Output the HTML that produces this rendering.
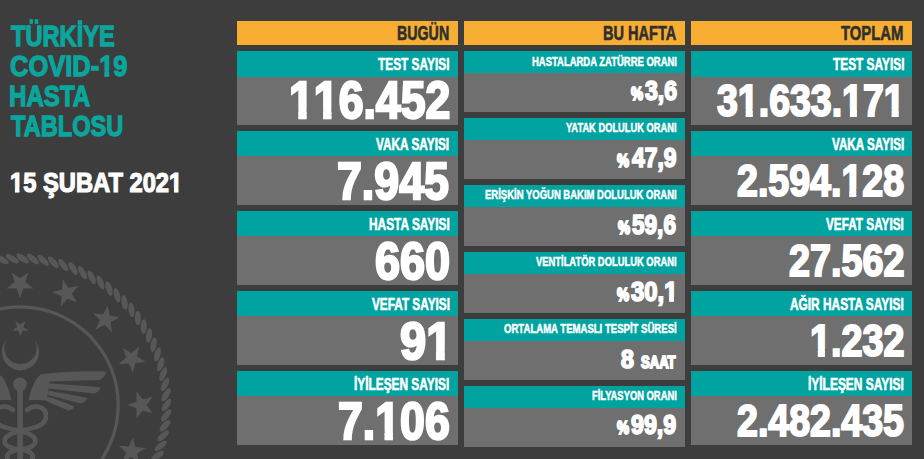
<!DOCTYPE html>
<html><head><meta charset="utf-8"><style>
html,body{margin:0;padding:0;}
body{width:924px;height:459px;overflow:hidden;background:#3d3d3d;position:relative;font-family:"Liberation Sans",sans-serif;font-weight:bold;}
.b{position:absolute;}
.t{position:absolute;white-space:nowrap;transform-origin:0 0;}
svg.logo{position:absolute;left:0;top:0;}
</style></head><body>
<svg class="logo" width="924" height="459" viewBox="0 0 924 459"><g fill="#575757"><polygon points="20.00,298.20 16.66,288.60 6.49,288.39 14.60,282.24 11.65,272.51 20.00,278.32 28.35,272.51 25.40,282.24 33.51,288.39 23.34,288.60"/><polygon points="60.87,306.33 61.46,296.18 52.15,292.10 61.99,289.52 62.99,279.40 68.48,287.96 78.41,285.79 71.97,293.66 77.10,302.43 67.63,298.73"/><polygon points="95.52,329.48 99.95,320.33 92.91,312.99 102.98,314.38 107.78,305.41 109.58,315.42 119.59,317.22 110.62,322.02 112.01,332.09 104.67,325.05"/><polygon points="118.67,364.13 126.27,357.37 122.57,347.90 131.34,353.03 139.21,346.59 137.04,356.52 145.60,362.01 135.48,363.01 132.90,372.85 128.82,363.54"/><polygon points="126.80,405.00 136.40,401.66 136.61,391.49 142.76,399.60 152.49,396.65 146.68,405.00 152.49,413.35 142.76,410.40 136.61,418.51 136.40,408.34"/><polygon points="118.67,445.87 128.82,446.46 132.90,437.15 135.48,446.99 145.60,447.99 137.04,453.48 139.21,463.41 131.34,456.97 122.57,462.10 126.27,452.63"/><ellipse cx="166.50" cy="405.00" rx="7.4" ry="3.0" transform="rotate(125.0 166.50 405.00)"/><ellipse cx="166.14" cy="415.33" rx="7.4" ry="3.0" transform="rotate(129.0 166.14 415.33)"/><ellipse cx="165.04" cy="425.62" rx="7.4" ry="3.0" transform="rotate(133.1 165.04 425.62)"/><ellipse cx="163.23" cy="435.80" rx="7.4" ry="3.0" transform="rotate(137.1 163.23 435.80)"/><ellipse cx="160.70" cy="445.82" rx="7.4" ry="3.0" transform="rotate(141.2 160.70 445.82)"/><ellipse cx="157.47" cy="455.65" rx="7.4" ry="3.0" transform="rotate(145.2 157.47 455.65)"/><ellipse cx="153.55" cy="465.22" rx="7.4" ry="3.0" transform="rotate(149.3 153.55 465.22)"/><ellipse cx="-8.26" cy="261.25" rx="7.4" ry="3.0" transform="rotate(383.9 -8.26 261.25)"/><ellipse cx="1.95" cy="259.62" rx="7.4" ry="3.0" transform="rotate(387.9 1.95 259.62)"/><ellipse cx="12.25" cy="258.71" rx="7.4" ry="3.0" transform="rotate(392.0 12.25 258.71)"/><ellipse cx="22.59" cy="258.52" rx="7.4" ry="3.0" transform="rotate(396.0 22.59 258.52)"/><ellipse cx="32.91" cy="259.07" rx="7.4" ry="3.0" transform="rotate(400.1 32.91 259.07)"/><ellipse cx="43.17" cy="260.34" rx="7.4" ry="3.0" transform="rotate(404.1 43.17 260.34)"/><ellipse cx="53.32" cy="262.34" rx="7.4" ry="3.0" transform="rotate(408.1 53.32 262.34)"/><ellipse cx="63.30" cy="265.04" rx="7.4" ry="3.0" transform="rotate(412.2 63.30 265.04)"/><ellipse cx="73.06" cy="268.45" rx="7.4" ry="3.0" transform="rotate(416.2 73.06 268.45)"/><ellipse cx="82.56" cy="272.53" rx="7.4" ry="3.0" transform="rotate(420.3 82.56 272.53)"/><ellipse cx="91.75" cy="277.27" rx="7.4" ry="3.0" transform="rotate(424.3 91.75 277.27)"/><ellipse cx="100.58" cy="282.65" rx="7.4" ry="3.0" transform="rotate(428.4 100.58 282.65)"/><ellipse cx="109.01" cy="288.64" rx="7.4" ry="3.0" transform="rotate(432.4 109.01 288.64)"/><ellipse cx="117.00" cy="295.21" rx="7.4" ry="3.0" transform="rotate(436.5 117.00 295.21)"/><ellipse cx="124.50" cy="302.33" rx="7.4" ry="3.0" transform="rotate(440.5 124.50 302.33)"/><ellipse cx="131.48" cy="309.95" rx="7.4" ry="3.0" transform="rotate(444.6 131.48 309.95)"/><ellipse cx="137.91" cy="318.05" rx="7.4" ry="3.0" transform="rotate(448.6 137.91 318.05)"/><ellipse cx="143.75" cy="326.59" rx="7.4" ry="3.0" transform="rotate(452.6 143.75 326.59)"/><ellipse cx="148.97" cy="335.51" rx="7.4" ry="3.0" transform="rotate(456.7 148.97 335.51)"/><ellipse cx="153.55" cy="344.78" rx="7.4" ry="3.0" transform="rotate(460.7 153.55 344.78)"/><ellipse cx="157.47" cy="354.35" rx="7.4" ry="3.0" transform="rotate(464.8 157.47 354.35)"/><ellipse cx="160.70" cy="364.18" rx="7.4" ry="3.0" transform="rotate(468.8 160.70 364.18)"/><ellipse cx="163.23" cy="374.20" rx="7.4" ry="3.0" transform="rotate(472.9 163.23 374.20)"/><ellipse cx="165.04" cy="384.38" rx="7.4" ry="3.0" transform="rotate(476.9 165.04 384.38)"/><ellipse cx="166.14" cy="394.67" rx="7.4" ry="3.0" transform="rotate(481.0 166.14 394.67)"/><circle cx="20" cy="405" r="98.2" fill="none" stroke="#575757" stroke-width="3.2"/><polygon points="20.30,336.50 18.30,330.75 12.22,330.63 17.07,326.95 15.30,321.12 20.30,324.60 25.30,321.12 23.53,326.95 28.38,330.63 22.30,330.75"/><path d="M 6.6,339.8 A 18.5,18.5 0 1 0 34.4,339.8 A 16.1,16.1 0 1 1 6.6,339.8 Z"/><rect x="17.3" y="384" width="5.6" height="80"/><circle cx="20" cy="384.4" r="6.8"/><path d="M 41.2,374.2 C 36,377 31.5,387 28.5,400.4 C 35,399.8 42,400.2 46.9,400.8 L 49.7,381.2 Z"/><path d="M 40.5,374.4 C 60,372 85,370.8 106.4,371.6 C 104.5,377 102,379.5 99.3,379.9 L 48.5,381.4 Z
 M 48.5,383.2 C 65,384.3 85,385.8 100.7,387.4 C 99,391 96.5,393 93.7,393.4 L 49,388.6 Z
 M 48.5,390.4 C 62,392.8 76,395.8 87.3,398 C 86,401 83.5,403 80.9,403.4 L 48,395 Z
 M 48,396.8 C 56,399.4 66,402.8 74.5,406.5 C 73,409 70.5,410.6 68.2,410.5 L 46,401 Z"/><g transform="translate(40,0) scale(-1,1)"><path d="M 41.2,374.2 C 36,377 31.5,387 28.5,400.4 C 35,399.8 42,400.2 46.9,400.8 L 49.7,381.2 Z"/><path d="M 40.5,374.4 C 60,372 85,370.8 106.4,371.6 C 104.5,377 102,379.5 99.3,379.9 L 48.5,381.4 Z
 M 48.5,383.2 C 65,384.3 85,385.8 100.7,387.4 C 99,391 96.5,393 93.7,393.4 L 49,388.6 Z
 M 48.5,390.4 C 62,392.8 76,395.8 87.3,398 C 86,401 83.5,403 80.9,403.4 L 48,395 Z
 M 48,396.8 C 56,399.4 66,402.8 74.5,406.5 C 73,409 70.5,410.6 68.2,410.5 L 46,401 Z"/></g><path fill="none" stroke="#575757" stroke-width="4.6" stroke-linecap="round" d="M 27,410 C 34,404 46,406 46,416 C 46,426 34,428 20,431 C 8,434 3,438 5,443 C 7,448 16,449 24,450 C 32,452 36,456 30,462"/><g transform="translate(40,0) scale(-1,1)"><path fill="none" stroke="#575757" stroke-width="4.6" stroke-linecap="round" d="M 27,410 C 34,404 46,406 46,416 C 46,426 34,428 20,431 C 8,434 3,438 5,443 C 7,448 16,449 24,450 C 32,452 36,456 30,462"/></g></g></svg>
<div class="b" style="left:237px;top:21.00px;width:221px;height:24.00px;background:#f7ae32"></div>
<div class="b" style="left:464px;top:21.00px;width:221px;height:24.00px;background:#f7ae32"></div>
<div class="b" style="left:691px;top:21.00px;width:221px;height:24.00px;background:#f7ae32"></div>
<div class="b" style="left:237px;top:51.00px;width:221px;height:25.50px;background:#00a3a0"></div>
<div class="b" style="left:237px;top:76.50px;width:221px;height:48.50px;background:#6f6f6f"></div>
<div class="b" style="left:237px;top:130.90px;width:221px;height:25.50px;background:#00a3a0"></div>
<div class="b" style="left:237px;top:156.40px;width:221px;height:48.50px;background:#6f6f6f"></div>
<div class="b" style="left:237px;top:210.80px;width:221px;height:25.50px;background:#00a3a0"></div>
<div class="b" style="left:237px;top:236.30px;width:221px;height:48.50px;background:#6f6f6f"></div>
<div class="b" style="left:237px;top:290.70px;width:221px;height:25.50px;background:#00a3a0"></div>
<div class="b" style="left:237px;top:316.20px;width:221px;height:48.50px;background:#6f6f6f"></div>
<div class="b" style="left:237px;top:370.60px;width:221px;height:25.50px;background:#00a3a0"></div>
<div class="b" style="left:237px;top:396.10px;width:221px;height:48.50px;background:#6f6f6f"></div>
<div class="b" style="left:691px;top:51.00px;width:221px;height:25.50px;background:#00a3a0"></div>
<div class="b" style="left:691px;top:76.50px;width:221px;height:48.50px;background:#6f6f6f"></div>
<div class="b" style="left:691px;top:130.90px;width:221px;height:25.50px;background:#00a3a0"></div>
<div class="b" style="left:691px;top:156.40px;width:221px;height:48.50px;background:#6f6f6f"></div>
<div class="b" style="left:691px;top:210.80px;width:221px;height:25.50px;background:#00a3a0"></div>
<div class="b" style="left:691px;top:236.30px;width:221px;height:48.50px;background:#6f6f6f"></div>
<div class="b" style="left:691px;top:290.70px;width:221px;height:25.50px;background:#00a3a0"></div>
<div class="b" style="left:691px;top:316.20px;width:221px;height:48.50px;background:#6f6f6f"></div>
<div class="b" style="left:691px;top:370.60px;width:221px;height:25.50px;background:#00a3a0"></div>
<div class="b" style="left:691px;top:396.10px;width:221px;height:48.50px;background:#6f6f6f"></div>
<div class="b" style="left:464px;top:50.90px;width:221px;height:22.00px;background:#00a3a0"></div>
<div class="b" style="left:464px;top:72.90px;width:221px;height:39.00px;background:#6f6f6f"></div>
<div class="b" style="left:464px;top:117.85px;width:221px;height:22.00px;background:#00a3a0"></div>
<div class="b" style="left:464px;top:139.85px;width:221px;height:39.00px;background:#6f6f6f"></div>
<div class="b" style="left:464px;top:184.80px;width:221px;height:22.00px;background:#00a3a0"></div>
<div class="b" style="left:464px;top:206.80px;width:221px;height:39.00px;background:#6f6f6f"></div>
<div class="b" style="left:464px;top:251.75px;width:221px;height:22.00px;background:#00a3a0"></div>
<div class="b" style="left:464px;top:273.75px;width:221px;height:39.00px;background:#6f6f6f"></div>
<div class="b" style="left:464px;top:318.70px;width:221px;height:22.00px;background:#00a3a0"></div>
<div class="b" style="left:464px;top:340.70px;width:221px;height:39.00px;background:#6f6f6f"></div>
<div class="b" style="left:464px;top:385.65px;width:221px;height:22.00px;background:#00a3a0"></div>
<div class="b" style="left:464px;top:407.65px;width:221px;height:39.00px;background:#6f6f6f"></div>
<div class="t" style="left:10.64px;top:21.21px;font-size:29.51px;line-height:29.51px;color:#0aa69e;transform:scaleX(0.8011);-webkit-text-stroke:1.30px #0aa69e">TÜRKİYE</div>
<div class="t" style="left:9.89px;top:51.01px;font-size:29.51px;line-height:29.51px;color:#0aa69e;transform:scaleX(0.8632);-webkit-text-stroke:1.30px #0aa69e">COVID-<span style="display:inline-block;clip-path:polygon(-59.0px -59.0px,75.4px -59.0px,75.4px 19.67px,11.71px 19.67px,11.71px 88.5px,6.12px 88.5px,6.12px 19.67px,-59.0px 19.67px)">1</span>9</div>
<div class="t" style="left:9.31px;top:81.21px;font-size:29.51px;line-height:29.51px;color:#0aa69e;transform:scaleX(0.8172);-webkit-text-stroke:1.30px #0aa69e">HASTA</div>
<div class="t" style="left:10.64px;top:111.01px;font-size:29.51px;line-height:29.51px;color:#0aa69e;transform:scaleX(0.7996);-webkit-text-stroke:1.30px #0aa69e">TABLOSU</div>
<div class="t" style="left:9.57px;top:169.45px;font-size:27.64px;line-height:27.64px;color:#ffffff;transform:scaleX(0.8584);-webkit-text-stroke:1.20px #ffffff"><span style="display:inline-block;clip-path:polygon(-55.3px -55.3px,70.6px -55.3px,70.6px 18.33px,10.96px 18.33px,10.96px 82.9px,5.73px 82.9px,5.73px 18.33px,-55.3px 18.33px)">1</span>5 ŞUBAT 202<span style="display:inline-block;clip-path:polygon(-55.3px -55.3px,70.6px -55.3px,70.6px 18.33px,10.96px 18.33px,10.96px 82.9px,5.73px 82.9px,5.73px 18.33px,-55.3px 18.33px)">1</span></div>
<div class="t" style="left:397.25px;top:22.79px;font-size:20.36px;line-height:20.36px;color:#2f2f2f;transform:scaleX(0.6989);-webkit-text-stroke:0.60px #2f2f2f">BUGÜN</div>
<div class="t" style="left:602.74px;top:22.79px;font-size:20.36px;line-height:20.36px;color:#2f2f2f;transform:scaleX(0.7153);-webkit-text-stroke:0.60px #2f2f2f">BU HAFTA</div>
<div class="t" style="left:841.14px;top:22.79px;font-size:20.36px;line-height:20.36px;color:#2f2f2f;transform:scaleX(0.7292);-webkit-text-stroke:0.60px #2f2f2f">TOPLAM</div>
<div class="t" style="left:378.09px;top:56.23px;font-size:16.29px;line-height:16.29px;color:#ffffff;transform:scaleX(0.7288);-webkit-text-stroke:0.60px #ffffff">TEST SAYISI</div>
<div class="t" style="left:288.69px;top:74.38px;font-size:52.22px;line-height:52.22px;color:#ffffff;transform:scaleX(0.8544);-webkit-text-stroke:2.40px #ffffff"><span style="display:inline-block;clip-path:polygon(-104.4px -104.4px,133.5px -104.4px,133.5px 35.77px,20.67px 35.77px,20.67px 156.7px,10.87px 156.7px,10.87px 35.77px,-104.4px 35.77px)">1</span><span style="display:inline-block;clip-path:polygon(-104.4px -104.4px,133.5px -104.4px,133.5px 35.77px,20.67px 35.77px,20.67px 156.7px,10.87px 156.7px,10.87px 35.77px,-104.4px 35.77px)">1</span>6.452</div>
<div class="t" style="left:376.41px;top:136.13px;font-size:16.29px;line-height:16.29px;color:#ffffff;transform:scaleX(0.7260);-webkit-text-stroke:0.60px #ffffff">VAKA SAYISI</div>
<div class="t" style="left:337.31px;top:154.78px;font-size:52.22px;line-height:52.22px;color:#ffffff;transform:scaleX(0.8565);-webkit-text-stroke:2.40px #ffffff">7.945</div>
<div class="t" style="left:368.74px;top:216.03px;font-size:16.29px;line-height:16.29px;color:#ffffff;transform:scaleX(0.7299);-webkit-text-stroke:0.60px #ffffff">HASTA SAYISI</div>
<div class="t" style="left:375.24px;top:235.38px;font-size:52.22px;line-height:52.22px;color:#ffffff;transform:scaleX(0.8619);-webkit-text-stroke:2.40px #ffffff">660</div>
<div class="t" style="left:371.61px;top:295.93px;font-size:16.29px;line-height:16.29px;color:#ffffff;transform:scaleX(0.7236);-webkit-text-stroke:0.60px #ffffff">VEFAT SAYISI</div>
<div class="t" style="left:399.61px;top:315.08px;font-size:52.22px;line-height:52.22px;color:#ffffff;transform:scaleX(0.9008);-webkit-text-stroke:2.40px #ffffff">9<span style="display:inline-block;clip-path:polygon(-104.4px -104.4px,133.5px -104.4px,133.5px 35.77px,20.67px 35.77px,20.67px 156.7px,10.87px 156.7px,10.87px 35.77px,-104.4px 35.77px)">1</span></div>
<div class="t" style="left:354.34px;top:375.83px;font-size:16.29px;line-height:16.29px;color:#ffffff;transform:scaleX(0.7289);-webkit-text-stroke:0.60px #ffffff">İYİLEŞEN SAYISI</div>
<div class="t" style="left:338.31px;top:395.38px;font-size:52.22px;line-height:52.22px;color:#ffffff;transform:scaleX(0.8552);-webkit-text-stroke:2.40px #ffffff">7.<span style="display:inline-block;clip-path:polygon(-104.4px -104.4px,133.5px -104.4px,133.5px 35.77px,20.67px 35.77px,20.67px 156.7px,10.87px 156.7px,10.87px 35.77px,-104.4px 35.77px)">1</span>06</div>
<div class="t" style="left:832.59px;top:56.23px;font-size:16.29px;line-height:16.29px;color:#ffffff;transform:scaleX(0.7288);-webkit-text-stroke:0.60px #ffffff">TEST SAYISI</div>
<div class="t" style="left:716.89px;top:79.01px;font-size:44.36px;line-height:44.36px;color:#ffffff;transform:scaleX(0.8453);-webkit-text-stroke:2.00px #ffffff">3<span style="display:inline-block;clip-path:polygon(-88.7px -88.7px,113.4px -88.7px,113.4px 30.36px,17.56px 30.36px,17.56px 133.1px,9.23px 133.1px,9.23px 30.36px,-88.7px 30.36px)">1</span>.633.<span style="display:inline-block;clip-path:polygon(-88.7px -88.7px,113.4px -88.7px,113.4px 30.36px,17.56px 30.36px,17.56px 133.1px,9.23px 133.1px,9.23px 30.36px,-88.7px 30.36px)">1</span>7<span style="display:inline-block;clip-path:polygon(-88.7px -88.7px,113.4px -88.7px,113.4px 30.36px,17.56px 30.36px,17.56px 133.1px,9.23px 133.1px,9.23px 30.36px,-88.7px 30.36px)">1</span></div>
<div class="t" style="left:831.70px;top:136.13px;font-size:16.29px;line-height:16.29px;color:#ffffff;transform:scaleX(0.7181);-webkit-text-stroke:0.60px #ffffff">VAKA SAYISI</div>
<div class="t" style="left:737.23px;top:158.91px;font-size:44.36px;line-height:44.36px;color:#ffffff;transform:scaleX(0.8467);-webkit-text-stroke:2.00px #ffffff">2.594.<span style="display:inline-block;clip-path:polygon(-88.7px -88.7px,113.4px -88.7px,113.4px 30.36px,17.56px 30.36px,17.56px 133.1px,9.23px 133.1px,9.23px 30.36px,-88.7px 30.36px)">1</span>28</div>
<div class="t" style="left:826.21px;top:216.03px;font-size:16.29px;line-height:16.29px;color:#ffffff;transform:scaleX(0.7227);-webkit-text-stroke:0.60px #ffffff">VEFAT SAYISI</div>
<div class="t" style="left:789.23px;top:238.81px;font-size:44.36px;line-height:44.36px;color:#ffffff;transform:scaleX(0.8510);-webkit-text-stroke:2.00px #ffffff">27.562</div>
<div class="t" style="left:790.30px;top:295.93px;font-size:16.29px;line-height:16.29px;color:#ffffff;transform:scaleX(0.7293);-webkit-text-stroke:0.60px #ffffff">AĞIR HASTA SAYISI</div>
<div class="t" style="left:810.30px;top:318.71px;font-size:44.36px;line-height:44.36px;color:#ffffff;transform:scaleX(0.8499);-webkit-text-stroke:2.00px #ffffff"><span style="display:inline-block;clip-path:polygon(-88.7px -88.7px,113.4px -88.7px,113.4px 30.36px,17.56px 30.36px,17.56px 133.1px,9.23px 133.1px,9.23px 30.36px,-88.7px 30.36px)">1</span>.232</div>
<div class="t" style="left:808.13px;top:375.83px;font-size:16.29px;line-height:16.29px;color:#ffffff;transform:scaleX(0.7343);-webkit-text-stroke:0.60px #ffffff">İYİLEŞEN SAYISI</div>
<div class="t" style="left:737.23px;top:398.61px;font-size:44.36px;line-height:44.36px;color:#ffffff;transform:scaleX(0.8462);-webkit-text-stroke:2.00px #ffffff">2.482.435</div>
<div class="t" style="left:531.55px;top:56.36px;font-size:12.65px;line-height:12.65px;color:#ffffff;transform:scaleX(0.7487);-webkit-text-stroke:0.50px #ffffff">HASTALARDA ZATÜRRE ORANI</div>
<div class="t" style="left:565.96px;top:122.31px;font-size:12.65px;line-height:12.65px;color:#ffffff;transform:scaleX(0.7368);-webkit-text-stroke:0.50px #ffffff">YATAK DOLULUK ORANI</div>
<div class="t" style="left:484.75px;top:189.26px;font-size:12.65px;line-height:12.65px;color:#ffffff;transform:scaleX(0.7505);-webkit-text-stroke:0.50px #ffffff">ERİŞKİN YOĞUN BAKIM DOLULUK ORANI</div>
<div class="t" style="left:535.89px;top:256.46px;font-size:12.65px;line-height:12.65px;color:#ffffff;transform:scaleX(0.7425);-webkit-text-stroke:0.50px #ffffff">VENTİLATÖR DOLULUK ORANI</div>
<div class="t" style="left:503.78px;top:323.46px;font-size:12.65px;line-height:12.65px;color:#ffffff;transform:scaleX(0.7566);-webkit-text-stroke:0.50px #ffffff">ORTALAMA TEMASLI TESPİT SÜRESİ</div>
<div class="t" style="left:591.75px;top:390.46px;font-size:12.65px;line-height:12.65px;color:#ffffff;transform:scaleX(0.7421);-webkit-text-stroke:0.50px #ffffff">FİLYASYON ORANI</div>
<div class="t" style="left:630.64px;top:85.53px;font-size:17.60px;line-height:17.60px;color:#ffffff;transform:scaleX(0.7739);-webkit-text-stroke:1.80px #ffffff">%</div>
<div class="t" style="left:644.69px;top:77.59px;font-size:27.05px;line-height:27.05px;color:#ffffff;transform:scaleX(0.8543);-webkit-text-stroke:1.70px #ffffff">3,6</div>
<div class="t" style="left:617.44px;top:152.53px;font-size:17.60px;line-height:17.60px;color:#ffffff;transform:scaleX(0.7739);-webkit-text-stroke:1.80px #ffffff">%</div>
<div class="t" style="left:631.60px;top:144.59px;font-size:27.05px;line-height:27.05px;color:#ffffff;transform:scaleX(0.8459);-webkit-text-stroke:1.70px #ffffff">47,9</div>
<div class="t" style="left:618.24px;top:219.63px;font-size:17.60px;line-height:17.60px;color:#ffffff;transform:scaleX(0.7739);-webkit-text-stroke:1.80px #ffffff">%</div>
<div class="t" style="left:632.11px;top:211.69px;font-size:27.05px;line-height:27.05px;color:#ffffff;transform:scaleX(0.8351);-webkit-text-stroke:1.70px #ffffff">59,6</div>
<div class="t" style="left:616.64px;top:286.63px;font-size:17.60px;line-height:17.60px;color:#ffffff;transform:scaleX(0.7739);-webkit-text-stroke:1.80px #ffffff">%</div>
<div class="t" style="left:630.70px;top:278.69px;font-size:27.05px;line-height:27.05px;color:#ffffff;transform:scaleX(0.8846);-webkit-text-stroke:1.70px #ffffff">30,<span style="display:inline-block;clip-path:polygon(-54.1px -54.1px,69.2px -54.1px,69.2px 17.65px,11.00px 17.65px,11.00px 81.2px,5.34px 81.2px,5.34px 17.65px,-54.1px 17.65px)">1</span></div>
<div class="t" style="left:617.24px;top:419.53px;font-size:17.60px;line-height:17.60px;color:#ffffff;transform:scaleX(0.7739);-webkit-text-stroke:1.80px #ffffff">%</div>
<div class="t" style="left:630.94px;top:411.59px;font-size:27.05px;line-height:27.05px;color:#ffffff;transform:scaleX(0.8585);-webkit-text-stroke:1.70px #ffffff">99,9</div>
<div class="t" style="left:621.06px;top:347.14px;font-size:25.45px;line-height:25.45px;color:#ffffff;transform:scaleX(0.9120);-webkit-text-stroke:1.70px #ffffff">8</div>
<div class="t" style="left:640.82px;top:353.67px;font-size:17.31px;line-height:17.31px;color:#ffffff;transform:scaleX(0.7555);-webkit-text-stroke:1.80px #ffffff">SAAT</div>
</body></html>
